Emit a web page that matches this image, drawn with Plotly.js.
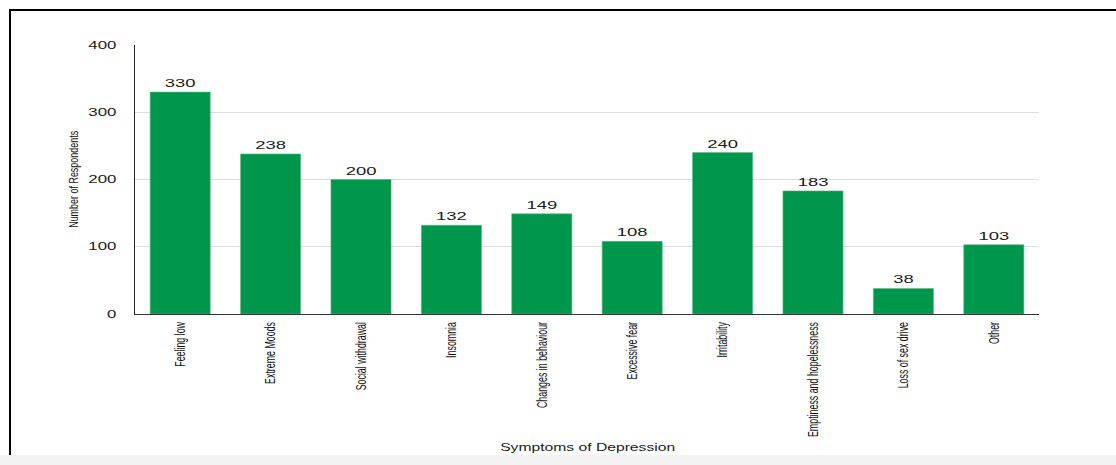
<!DOCTYPE html>
<html>
<head>
<meta charset="utf-8">
<script src="https://cdn.plot.ly/plotly-3.0.1.min.js"></script>
<style>
  html, body { margin: 0; padding: 0; background: #ffffff; }
  #wrap { position: relative; width: 1116px; height: 465px; overflow: hidden; background: #ffffff; }
  #frame { position: absolute; left: 9px; top: 9px; right: -5px; bottom: 10px; border-top: 2px solid #000; border-left: 2px solid #000; pointer-events: none; z-index: 5; }
  #foot { position: absolute; left: 0; right: 0; bottom: 0; height: 10px; background: #f3f3f3; z-index: 4; }
  #chart { position: absolute; left: 0; top: 0; width: 1116px; height: 465px; }
</style>
</head>
<body>
<div id="wrap">
  <div id="chart"></div>
  <div id="frame"></div>
  <div id="foot"></div>
</div>
<script>
const categories = ["Feeling low", "Extreme Moods", "Social withdrawal", "Insomnia", "Changes in behaviour", "Excessive fear", "Irritability", "Emptiness and hopelessness", "Loss of sex drive", "Other"];
const respondents = [330, 238, 200, 132, 149, 108, 240, 183, 38, 103];
const yTicks = [0, 100, 200, 300, 400];
const xTitle = "Symptoms of Depression";
const yTitle = "Number of Respondents";

const font = "Liberation Sans, Arial, Helvetica, sans-serif";

const trace = {
  type: "bar",
  x: categories,
  y: respondents,
  text: respondents.map(String),
  textposition: "outside",
  textfont: { family: font, size: 11.5, color: "#1a1a1a" },
  cliponaxis: false,
  marker: { color: "#00964B", line: { color: "#5cb884", width: 0.6 } },
  hoverinfo: "x+y"
};

const layout = {
  width: 1116,
  height: 465,
  margin: { l: 135, r: 77, t: 45, b: 151 },
  paper_bgcolor: "rgba(0,0,0,0)",
  plot_bgcolor: "#ffffff",
  bargap: 0.335,
  showlegend: false,
  font: { family: font },
  xaxis: {
    type: "category",
    tickangle: -90,
    tickfont: { family: font, size: 14.5, color: "#111" },
    ticks: "outside",
    ticklen: 1,
    tickcolor: "rgba(0,0,0,0)",
    showline: true,
    linecolor: "#333",
    linewidth: 1.2,
    showgrid: false,
    automargin: false
  },
  yaxis: {
    range: [0, 400],
    tickvals: yTicks,
    ticktext: yTicks.map(String),
    tickfont: { family: font, size: 10.5, color: "#1a1a1a" },
    ticks: "outside",
    ticklen: 15,
    tickcolor: "rgba(0,0,0,0)",
    showline: true,
    linecolor: "#222",
    linewidth: 1.5,
    showgrid: true,
    gridcolor: "#dddddd",
    gridwidth: 1,
    zeroline: false,
    automargin: false
  },
  annotations: [
    { text: xTitle, xref: "paper", yref: "paper", x: 0.5, y: 0, xanchor: "center", yanchor: "middle",
      yshift: -133, showarrow: false, font: { family: font, size: 10.5, color: "#1a1a1a" } },
    { text: yTitle, xref: "paper", yref: "paper", x: 0, y: 0.5, xanchor: "center", yanchor: "middle",
      xshift: -62, textangle: -90, showarrow: false, font: { family: font, size: 13.5, color: "#111" } }
  ]
};

function squeeze(sel, factor) {
  document.querySelectorAll(sel).forEach(function (t) {
    const w = t.getComputedTextLength();
    if (w > 0) {
      t.setAttribute("textLength", (w * factor).toFixed(2));
      t.setAttribute("lengthAdjust", "spacingAndGlyphs");
    }
  });
}

Plotly.newPlot("chart", [trace], layout, { displayModeBar: false, staticPlot: true }).then(function () {
  squeeze(".xtick text", 0.61);
  squeeze(".ytick text", 1.6);
  squeeze("text.bartext", 1.6);
  const ann = document.querySelectorAll(".annotation-text");
  if (ann[0]) { ann[0].setAttribute("textLength", 175); ann[0].setAttribute("lengthAdjust", "spacingAndGlyphs"); }
  if (ann[1]) { ann[1].setAttribute("textLength", 97); ann[1].setAttribute("lengthAdjust", "spacingAndGlyphs"); }
});
</script>
</body>
</html>
